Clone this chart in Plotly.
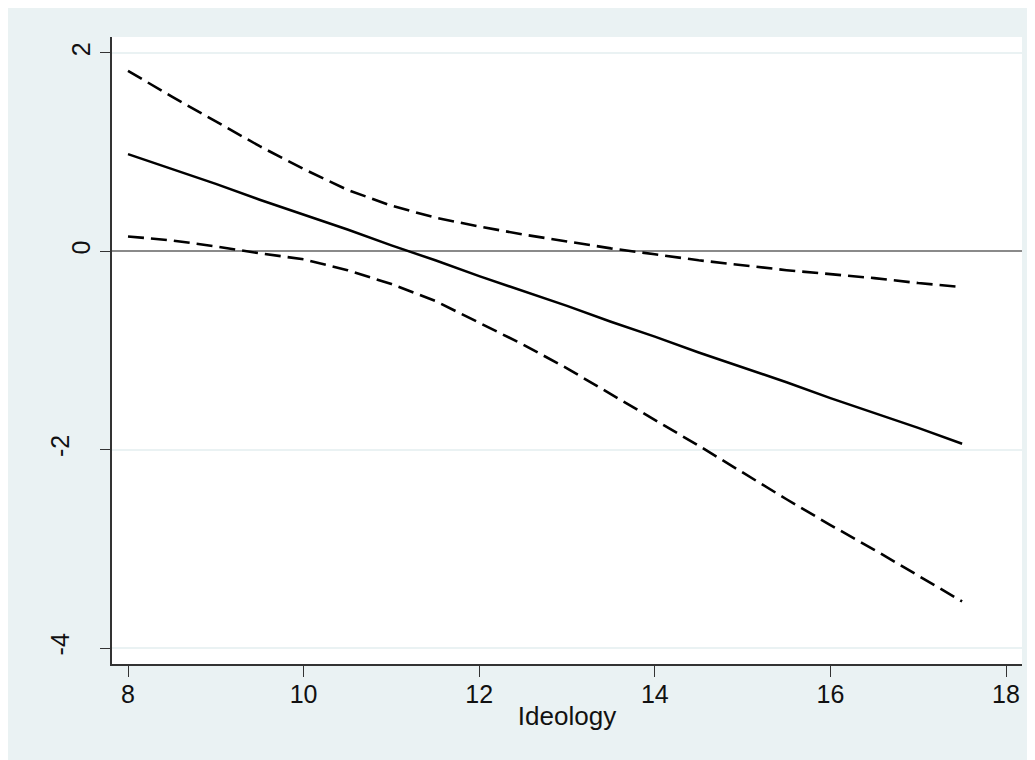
import plotly.graph_objects as go

# ---- data ----
x_vals = [8, 8.5, 9, 9.5, 10, 10.5, 11, 11.5, 12, 12.5, 13, 13.5, 14, 14.5,
          15, 15.5, 16, 16.5, 17, 17.5]
effect = [0.98, 0.83, 0.68, 0.52, 0.37, 0.22, 0.06, -0.09, -0.25, -0.40,
          -0.55, -0.71, -0.86, -1.02, -1.17, -1.32, -1.48, -1.63, -1.78, -1.94]
upper = [1.82, 1.56, 1.31, 1.06, 0.83, 0.62, 0.46, 0.34, 0.25, 0.17,
         0.10, 0.03, -0.03, -0.09, -0.14, -0.19, -0.23, -0.27, -0.32, -0.36]
lower = [0.15, 0.11, 0.05, -0.02, -0.08, -0.19, -0.33, -0.50, -0.72, -0.94,
         -1.18, -1.44, -1.70, -1.96, -2.23, -2.50, -2.76, -3.01, -3.27, -3.53]
x_ticks = [8, 10, 12, 14, 16, 18]
y_ticks = [-4, -2, 0, 2]
x_title = "Ideology"

# page body margin of 8px shifts the figure; the figure runs past the window edge
OFF = 8
W, H = 1035, 760
L, R, T, B = 112 - OFF, 1022 - OFF, 37 - OFF, 664 - OFF
BG = "#EAF2F3"
FONT = "Liberation Sans, Arial, sans-serif"
TXT = "#111111"
AX = "#333333"

x_lo = 8 - (128 - 112) / 87.8
x_hi = 18 + (1022 - 1006) / 87.8
y_hi = 2 + (53 - 37) / 99.2
y_lo = -4 - (664 - 648) / 99.2

fig = go.Figure()
fig.add_trace(go.Scatter(x=x_vals, y=upper, mode="lines",
                         line=dict(color="black", width=2.6, dash="16px,7px"),
                         showlegend=False, hoverinfo="skip"))
fig.add_trace(go.Scatter(x=x_vals, y=lower, mode="lines",
                         line=dict(color="black", width=2.6, dash="16px,7px"),
                         showlegend=False, hoverinfo="skip"))
# the point estimate is drawn on the overlaid (identically scaled) axis
fig.add_trace(go.Scatter(x=x_vals, y=effect, mode="lines", yaxis="y2",
                         line=dict(color="black", width=2.5),
                         showlegend=False, hoverinfo="skip"))

# negative labels sit further from the axis in the reference
neg_ticks = [v for v in y_ticks if v < 0]

fig.update_layout(
    width=W, height=H,
    margin=dict(l=L, r=W - R, t=T, b=H - B, pad=0),
    paper_bgcolor=BG, plot_bgcolor="white",
    font=dict(family=FONT, color=TXT, size=25),
    xaxis=dict(range=[x_lo, x_hi], tickmode="array", tickvals=x_ticks,
               ticktext=[str(v) for v in x_ticks],
               ticks="outside", ticklen=11, tickwidth=1.3, tickcolor=AX,
               showline=True, linecolor=AX, linewidth=1.5,
               showgrid=False, zeroline=False, ticklabelstandoff=-4,
               tickfont=dict(size=25, family=FONT, color=TXT),
               title=dict(text=x_title, font=dict(size=26, family=FONT, color=TXT),
                          standoff=0)),
    yaxis=dict(range=[y_lo, y_hi], tickmode="array", tickvals=y_ticks,
               ticktext=[str(v) if v >= 0 else "" for v in y_ticks], tickangle=-90,
               ticks="outside", ticklen=10, tickwidth=1.3, tickcolor=AX,
               showline=True, linecolor=AX, linewidth=1.5,
               showgrid=True, gridcolor=BG, gridwidth=1.6,
               zeroline=True, zerolinecolor="#8A8A8A", zerolinewidth=2.4,
               tickfont=dict(size=25, family=FONT, color=TXT)),
    yaxis2=dict(overlaying="y", side="left", anchor="x", range=[y_lo, y_hi],
                tickmode="array", tickvals=neg_ticks,
                ticktext=[str(v) for v in neg_ticks], tickangle=-90,
                ticks="outside", ticklen=10, tickwidth=1.3, tickcolor=AX,
                showline=False, showgrid=False, zeroline=False,
                ticklabelstandoff=22,
                tickfont=dict(size=25, family=FONT, color=TXT)),
)

fig.write_html("out.html")
